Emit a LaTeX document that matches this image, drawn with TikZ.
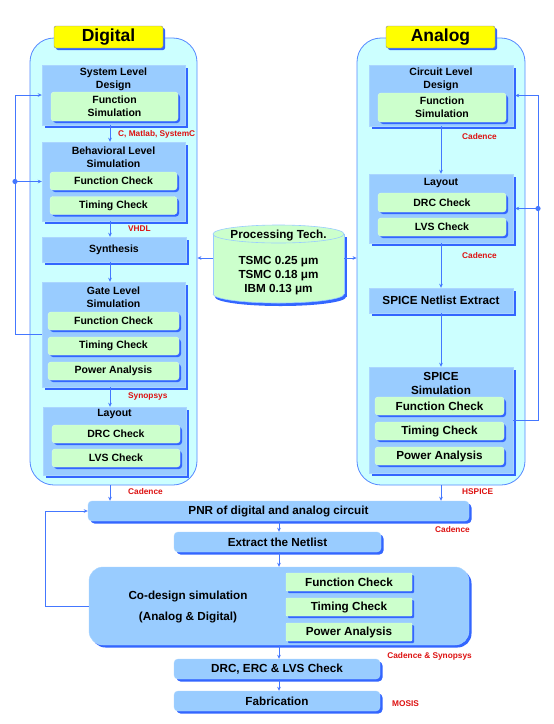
\documentclass[tikz,border=0pt]{standalone}
\usepackage{fontspec}
\setmainfont{Liberation Sans}
\usetikzlibrary{shadows,arrows.meta}
\definecolor{cfill}{HTML}{CCFFFF}
\definecolor{cline}{HTML}{5588FF}
\definecolor{bfill}{HTML}{99CCFF}
\definecolor{bedge}{HTML}{AAD6FF}
\definecolor{gfill}{HTML}{CCFFCC}
\definecolor{gedge}{HTML}{E0FFE0}
\definecolor{shb}{HTML}{3366FF}
\definecolor{connc}{HTML}{4477FF}
\definecolor{lred}{HTML}{DD1111}
\definecolor{ylw}{HTML}{FFFF00}
\tikzset{
  container/.style={draw=cline, line width=0.8pt, fill=cfill, rounded corners=24pt, inner sep=0pt},
  hdr/.style={fill=ylw, draw=black!45, line width=0.4pt, rounded corners=2pt, minimum width=109pt, minimum height=22pt, inner sep=0pt, font=\fontsize{17.5}{20}\selectfont\bfseries, drop shadow={shadow xshift=2pt, shadow yshift=-2pt, fill=shb, opacity=1}},
  mbox/.style={fill=bfill, draw=bedge, line width=0.4pt, inner sep=0pt, drop shadow={shadow xshift=2.5pt, shadow yshift=-2.5pt, fill=shb, opacity=1}},
  gbox/.style={fill=gfill, draw=gedge, line width=0.4pt, rounded corners=3pt, inner sep=0pt, drop shadow={shadow xshift=2pt, shadow yshift=-2pt, fill=shb, opacity=1}},
  tA/.style={font=\fontsize{10.5}{13}\selectfont\bfseries, align=center, inner sep=0pt},
  tB/.style={font=\fontsize{11.7}{14}\selectfont\bfseries, align=center, inner sep=0pt},
  rl/.style={font=\fontsize{8.3}{10}\selectfont\bfseries, text=lred, inner sep=0pt},
  conn/.style={draw=connc, line width=0.7pt, -{Stealth[length=4pt,width=3.6pt]}},
  cyl/.style={draw=bfill, line width=0.6pt}
}
\begin{document}
\begin{tikzpicture}[x=1pt,y=-1pt]
\fill[white] (0,0) rectangle (554,724);
\useasboundingbox (0,0) rectangle (554,724);
\coordinate (dx) at (110,0);
\coordinate (ax) at (441,0);
\coordinate (bx) at (279,0);
\coordinate (lx) at (15,0);
\coordinate (rx) at (538,0);
\coordinate (blx) at (45,0);

% ---------------- Digital ----------------
\node[container, minimum width=167, minimum height=447] (dig) at (113.5,261.5) {};
\node[hdr] (dh) at (108.5,37) {Digital};

\node[mbox, minimum width=143, minimum height=60] (sld) at (113.5,95) {};
\node[tA] (sldt) at (113.5,79.5) {System Level\\Design};
\node[gbox, tA, minimum width=127, minimum height=29] (sldf) at (114.5,106.5) {Function\\Simulation};

\node[mbox, minimum width=143, minimum height=79] (bls) at (113.5,181.5) {};
\node[tA] (blstt) at (113.5,157) {Behavioral Level\\Simulation};
\node[gbox, tA, minimum width=127, minimum height=18] (blsf) at (113.5,181) {Function Check};
\node[gbox, tA, minimum width=127, minimum height=18] (blst) at (113.5,205.5) {Timing Check};

\node[mbox, tA, minimum width=144, minimum height=25] (syn) at (114,249.5) {Synthesis};

\node[mbox, minimum width=143, minimum height=105] (gls) at (113.5,334.5) {};
\node[tA] (glstt) at (113.5,297) {Gate Level\\Simulation};
\node[gbox, tA, minimum width=131, minimum height=18] (glsf) at (113.5,321) {Function Check};
\node[gbox, tA, minimum width=131, minimum height=18] (glst) at (113.5,346) {Timing Check};
\node[gbox, tA, minimum width=131, minimum height=18] (glsp) at (113.5,371) {Power Analysis};

\node[mbox, minimum width=143, minimum height=68] (dlay) at (114.5,441) {};
\node[tA] (dlayt) at (114.5,414) {Layout};
\node[gbox, tA, minimum width=128, minimum height=18] (ddrc) at (116,434) {DRC Check};
\node[gbox, tA, minimum width=128, minimum height=18] (dlvs) at (116,458) {LVS Check};

\node[rl, anchor=west] (l1) at (118,134) {C, Matlab, SystemC};
\node[rl, anchor=west] (l2) at (128,229) {VHDL};
\node[rl, anchor=west] (l3) at (128,396) {Synopsys};
\node[rl, anchor=west] (l4) at (128,492) {Cadence};

% ---------------- Analog ----------------
\node[container, minimum width=168, minimum height=447] (ana) at (441,261.5) {};
\node[hdr] (ah) at (440.5,37) {Analog};

\node[mbox, minimum width=144, minimum height=61] (cld) at (441,95.5) {};
\node[tA] (cldt) at (441,79.5) {Circuit Level\\Design};
\node[gbox, tA, minimum width=128, minimum height=29] (cldf) at (442,107.5) {Function\\Simulation};

\node[mbox, minimum width=144, minimum height=69] (alay) at (441,208.5) {};
\node[tA] (alayt) at (441,183) {Layout};
\node[gbox, tA, minimum width=128, minimum height=19] (adrc) at (442,202.5) {DRC Check};
\node[gbox, tA, minimum width=128, minimum height=18] (alvs) at (442,227) {LVS Check};

\node[mbox, tB, minimum width=144, minimum height=25] (sne) at (441,300.5) {SPICE Netlist Extract};

\node[mbox, minimum width=144, minimum height=106] (ssim) at (441,420) {};
\node[tB] (ssimt) at (441,383) {SPICE\\Simulation};
\node[gbox, tB, minimum width=129, minimum height=18] (ssf) at (439.5,406) {Function Check};
\node[gbox, tB, minimum width=129, minimum height=18] (sst) at (439.5,431) {Timing Check};
\node[gbox, tB, minimum width=129, minimum height=18] (ssp) at (439.5,456) {Power Analysis};

\node[rl, anchor=west] (l5) at (462,137) {Cadence};
\node[rl, anchor=west] (l6) at (462,256) {Cadence};
\node[rl, anchor=west] (l7) at (462,492) {HSPICE};

% ---------------- Cylinder ----------------
\fill[shb] (215,237) rectangle (347,297);
\fill[shb] (280.5,297) ellipse (65.5 and 9);
\fill[gfill] (213,234) rectangle (344,294);
\fill[gfill] (278.5,294) ellipse (65.5 and 9);
\draw[cyl] (213,234) -- (213,294);
\draw[cyl] (344,234) -- (344,294);
\begin{scope}
\clip (210,294) rectangle (348,306);
\draw[cyl] (278.5,294) ellipse (65.5 and 9);
\end{scope}
\draw[cyl, fill=gfill] (278.5,234) ellipse (65.5 and 9);
\node[inner sep=0, minimum width=131, minimum height=78] (cylnode) at (278.5,264) {};
\node[tB] (cylt) at (278.5,235) {Processing Tech.};
\node[tB] (cylb) at (278.5,276) {TSMC 0.25 μm\\TSMC 0.18 μm\\IBM 0.13 μm};
\coordinate (cl) at (213,258);
\coordinate (cr) at (344,258);

% ---------------- Bottom ----------------
\node[mbox, tB, rounded corners=4pt, minimum width=381, minimum height=20] (pnr) at (278.5,511) {PNR of digital and analog circuit};
\node[mbox, tB, rounded corners=4pt, minimum width=207, minimum height=20] (ext) at (277.5,542) {Extract the Netlist};
\node[mbox, rounded corners=14pt, minimum width=380, minimum height=78] (cod) at (279,606) {};
\node[tB] (codt1) at (188,596) {Co-design simulation};
\node[tB] (codt2) at (188,617) {(Analog \& Digital)};
\node[gbox, tB, rounded corners=1pt, minimum width=126, minimum height=18] (cf) at (349,582) {Function Check};
\node[gbox, tB, rounded corners=1pt, minimum width=126, minimum height=18] (ct) at (349,607) {Timing Check};
\node[gbox, tB, rounded corners=1pt, minimum width=126, minimum height=18] (cp) at (349,632) {Power Analysis};
\node[mbox, tB, rounded corners=4pt, minimum width=206, minimum height=20] (drc) at (277,669) {DRC, ERC \& LVS Check};
\node[mbox, tB, rounded corners=4pt, minimum width=206, minimum height=20] (fab) at (277,701) {Fabrication};

\node[rl, anchor=east] (l8) at (470,530) {Cadence};
\node[rl, anchor=east] (l9) at (472,656) {Cadence \& Synopsys};
\node[rl, anchor=west] (l10) at (392,704) {MOSIS};

% ---------------- Connectors ----------------
\draw[conn] (sld.south -| dx) -- (bls.north -| dx);
\draw[conn] (bls.south -| dx) -- (syn.north -| dx);
\draw[conn] (syn.south -| dx) -- (gls.north -| dx);
\draw[conn] (gls.south -| dx) -- (dlay.north -| dx);
\draw[conn] (dig.south -| dx) -- (pnr.north -| dx);

\draw[conn] (cld.south -| ax) -- (alay.north -| ax);
\draw[conn] (alay.south -| ax) -- (sne.north -| ax);
\draw[conn] (sne.south -| ax) -- (ssim.north -| ax);
\draw[conn] (ana.south -| ax) -- (pnr.north -| ax);

\draw[conn] (cl) -- (cl -| dig.east);
\draw[conn] (cr) -- (cr -| ana.west);

\draw[conn] (gls.west) -- (gls.west -| lx) |- (sld.west);
\coordinate (ldot) at (bls.west -| lx);
\fill[connc] (ldot) circle (2.6);
\draw[conn] (ldot) -- (bls.west);

\draw[conn] (ssim.east) -- (ssim.east -| rx) |- ([xshift=2pt]cld.east);
\coordinate (rdot) at (alay.east -| rx);
\fill[connc] (rdot) circle (2.6);
\draw[conn] (rdot) -- ([xshift=2pt]alay.east);

\draw[conn] (pnr.south -| bx) -- (ext.north -| bx);
\draw[conn] (ext.south -| bx) -- (cod.north -| bx);
\draw[conn] (cod.south -| bx) -- (drc.north -| bx);
\draw[conn] (drc.south -| bx) -- (fab.north -| bx);
\draw[conn] (cod.west) -- (cod.west -| blx) |- (pnr.west);
\end{tikzpicture}
\end{document}
